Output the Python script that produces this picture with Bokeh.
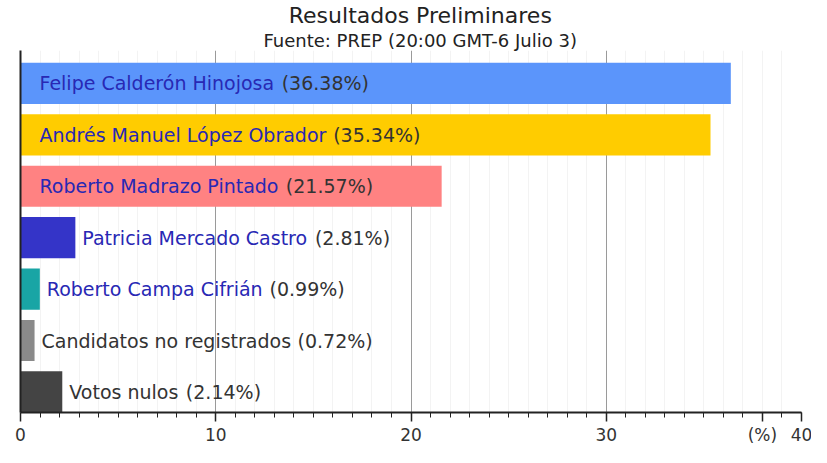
from bokeh.plotting import figure
from bokeh.models import (ColumnDataSource, Range1d, SingleIntervalTicker, FixedTicker, Title)
from bokeh.core.properties import value
from bokeh.embed import file_html
from bokeh.resources import INLINE

# ---- data ----
names = [
    "Felipe Calderón Hinojosa",
    "Andrés Manuel López Obrador",
    "Roberto Madrazo Pintado",
    "Patricia Mercado Castro",
    "Roberto Campa Cifrián",
    "Candidatos no registrados",
    "Votos nulos",
]
percents = [36.38, 35.34, 21.57, 2.81, 0.99, 0.72, 2.14]
bar_colors = ["#5b95fb", "#ffcc00", "#ff8282", "#3434c8", "#19a5a5", "#8a8a8a", "#444444"]
name_colors = ["#2828b4", "#2828b4", "#2828b4", "#2828b4", "#2828b4", "#333333", "#333333"]
x_ticks = [0, 10, 20, 30, 40]
x_unit_pos = 38
title_text = "Resultados Preliminares"
subtitle_text = "Fuente: PREP (20:00 GMT-6 Julio 3)"
unit_text = "(%)"

FONT = "DejaVu Sans"
LABEL_PX = 19

# approximate DejaVu Sans advance widths (em)
W = {' ': 0.318, 'a': 0.613, 'b': 0.635, 'c': 0.550, 'd': 0.635, 'e': 0.615, 'f': 0.352,
     'g': 0.635, 'h': 0.634, 'i': 0.278, 'j': 0.278, 'k': 0.579, 'l': 0.278, 'm': 0.974,
     'n': 0.634, 'o': 0.612, 'p': 0.635, 'r': 0.411, 's': 0.521, 't': 0.392, 'u': 0.634,
     'v': 0.592, 'z': 0.525, 'á': 0.613, 'é': 0.615, 'í': 0.278, 'ó': 0.612,
     'A': 0.684, 'C': 0.698, 'E': 0.632, 'F': 0.575, 'G': 0.775, 'H': 0.752, 'J': 0.295,
     'L': 0.557, 'M': 0.863, 'O': 0.787, 'P': 0.603, 'R': 0.695, 'T': 0.611, 'V': 0.684,
     '(': 0.390, ')': 0.390, ':': 0.337, '-': 0.361, '.': 0.318, '%': 0.950}
for d in "0123456789":
    W[d] = 0.636


def text_width(s, px):
    return sum(W.get(c, 0.62) for c in s) * px


n = len(names)
ypos = [n - 1 - i for i in range(n)]
inside = [v > 10 for v in percents]
name_x = [0 if ins else v for ins, v in zip(inside, percents)]
name_off = [19 if ins else 7 for ins in inside]
pct_text = [f"({v:.2f}%)" for v in percents]
pct_off = [o + text_width(nm + " ", LABEL_PX) for o, nm in zip(name_off, names)]

src = ColumnDataSource(dict(y=ypos, v=percents, color=bar_colors, name=names,
                            ncolor=name_colors, nx=name_x, noff=name_off,
                            pct=pct_text, poff=pct_off))

W_FIG, H_FIG = 811, 447
BORDER_L, BORDER_R = 20, 10
TITLE_CENTER = 421
y_lo, y_hi = -0.4, n - 1 + 0.64
p = figure(width=W_FIG, height=H_FIG, x_range=Range1d(x_ticks[0], x_ticks[-1]),
           y_range=Range1d(y_lo, y_hi),
           output_backend="svg", toolbar_location=None, title=None,
           min_border_left=BORDER_L, min_border_right=BORDER_R, min_border_top=9,
           min_border_bottom=1)
p.outline_line_color = None
p.background_fill_color = "white"

SUB_PX, MAIN_PX = 18, 22
sub = Title(text=subtitle_text, align="left", text_font=FONT, text_font_size=f"{SUB_PX}px",
            text_font_style="normal", text_color="#222222", standoff=0,
            offset=TITLE_CENTER - BORDER_L - text_width(subtitle_text, SUB_PX) / 2)
main = Title(text=title_text, align="left", text_font=FONT, text_font_size=f"{MAIN_PX}px",
             text_font_style="normal", text_color="#222222", standoff=0,
             offset=TITLE_CENTER - BORDER_L - text_width(title_text, MAIN_PX) / 2)
p.add_layout(sub, "above")
p.add_layout(main, "above")

p.hbar(y="y", left=0, right="v", height=0.8, fill_color="color", line_color=None, source=src)

p.text(x="nx", y="y", text="name", x_offset="noff", text_color="ncolor",
       text_font=value(FONT), text_font_size=f"{LABEL_PX}px", text_baseline="middle",
       text_align="left", source=src)
p.text(x="nx", y="y", text="pct", x_offset="poff", text_color="#333333",
       text_font=value(FONT), text_font_size=f"{LABEL_PX}px", text_baseline="middle",
       text_align="left", source=src)

# x axis: ticks every 10 (plus the unit label position), minor ticks every unit
xa = p.xaxis[0]
xa.ticker = FixedTicker(ticks=x_ticks + [x_unit_pos],
                        minor_ticks=list(range(x_ticks[0], x_ticks[-1] + 1)))
xa.major_label_overrides = {x_unit_pos: unit_text}
xa.axis_line_color = "#222222"
xa.axis_line_width = 2
xa.major_tick_in = 0
xa.major_tick_out = 9
xa.major_tick_line_color = "#222222"
xa.major_tick_line_width = 1.5
xa.minor_tick_in = 0
xa.minor_tick_out = 5
xa.minor_tick_line_color = "#222222"
xa.major_label_standoff = 3
xa.major_label_text_font = FONT
xa.major_label_text_font_size = "17px"
xa.major_label_text_color = "#333333"

# y axis: only the line
ya = p.yaxis[0]
ya.ticker = FixedTicker(ticks=[])
ya.major_tick_out = 0
ya.major_tick_in = 0
ya.minor_tick_out = 0
ya.major_label_standoff = 0
ya.axis_line_color = "#222222"
ya.axis_line_width = 2

p.ygrid.visible = False
xg = p.xgrid[0]
xg.axis = None
xg.ticker = SingleIntervalTicker(interval=10, num_minor_ticks=10)
xg.grid_line_color = "#9a9a9a"
xg.grid_line_width = 1
xg.minor_grid_line_color = "#f3f3f3"

open("out.html", "w").write(file_html(p, INLINE))
